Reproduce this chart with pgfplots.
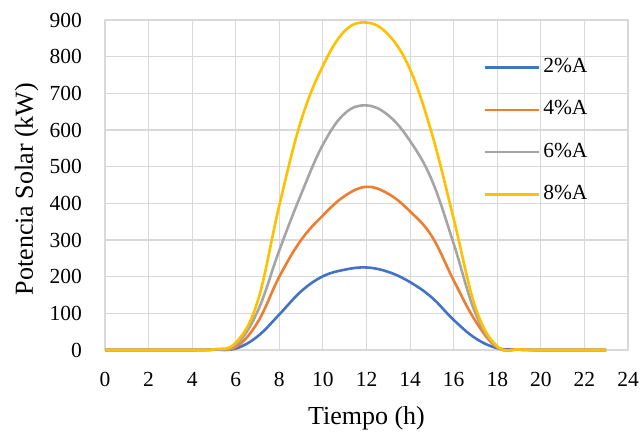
\documentclass[border=0pt]{standalone}
\usepackage{fontspec}
\setmainfont{Liberation Serif}
\usepackage{pgfplots}
\pgfplotsset{compat=1.18}
\definecolor{cA}{HTML}{4472C4}
\definecolor{cB}{HTML}{ED7D31}
\definecolor{cC}{HTML}{A5A5A5}
\definecolor{cD}{HTML}{FFC000}
\definecolor{gridc}{HTML}{D9D9D9}
\begin{document}
\begin{tikzpicture}
\begin{axis}[
  scale only axis, width=523pt, height=330pt,
  xmin=0, xmax=24, ymin=0, ymax=900,
  xtick={0,2,...,24}, ytick={0,100,...,900},
  grid=major, major grid style={draw=gridc, line width=1.1pt},
  axis line style={draw=gridc, line width=1.1pt},
  major tick length=0pt,
  clip=false,
  /pgf/number format/assume math mode=true,
  tick label style={font=\fontsize{21.5}{24}\selectfont, inner sep=0pt},
  xticklabel style={anchor=north, yshift=-22pt},
  yticklabel style={anchor=east, xshift=-23pt},
  xlabel={Tiempo (h)}, ylabel={Potencia Solar (kW)},
  label style={font=\fontsize{26}{30}\selectfont, inner sep=0pt},
  xlabel style={at={(axis description cs:0.5,-0.227)}, anchor=base},
  ylabel style={at={(axis description cs:-0.1377,0.488)}, anchor=base, rotate=0},
  legend style={at={(axis description cs:0.7228,0.8866)}, anchor=north west,
    draw=none, fill=none, inner sep=0pt,
    font=\fontsize{21.5}{24}\selectfont, row sep=22.2pt,
    nodes={inner sep=0pt, text height=15pt, text depth=5pt}},
  legend cell align=left,
  legend image code/.code={\draw[#1] (0pt,0pt) -- (54pt,0pt); \path (57.5pt,0pt);},
]
\addplot[cA, line width=2.6pt, smooth, tension=0.65] coordinates {(0,0)(1,0)(2,0)(3,0)(4,0)(5,1)(6,4)(7,37)(8,97)(9,160)(10,201)(11,219)(12,225)(13,213)(14,185)(15,143)(16,82)(17,32)(18,5)(19,1)(20,0)(21,0)(22,0)(23,0)};
\addlegendentry{2\%A}
\addplot[cB, line width=2.6pt, smooth, tension=0.65] coordinates {(0,0)(1,0)(2,0)(3,0)(4,0)(5,1)(6,8)(7,75)(8,200)(9,300)(10,367)(11,420)(12,445)(13,426)(14,378)(15,310)(16,190)(17,79)(18,7)(19,1)(20,0)(21,0)(22,0)(23,0)};
\addlegendentry{4\%A}
\addplot[cC, line width=2.6pt, smooth, tension=0.65] coordinates {(0,0)(1,0)(2,0)(3,0)(4,0)(5,1)(6,14)(7,105)(8,272)(9,425)(10,560)(11,645)(12,667)(13,640)(14,570)(15,463)(16,290)(17,100)(18,8)(19,1)(20,0)(21,0)(22,0)(23,0)};
\addlegendentry{6\%A}
\addplot[cD, line width=2.6pt, smooth, tension=0.65] coordinates {(0,0)(1,0)(2,0)(3,0)(4,0)(5,2)(6,20)(7,132)(8,395)(9,626)(10,775)(11,870)(12,893)(13,860)(14,765)(15,590)(16,358)(17,116)(18,10)(19,1.5)(20,0)(21,0)(22,0)(23,0)};
\addlegendentry{8\%A}
\end{axis}
\pgfresetboundingbox
\path[use as bounding box] ([shift={(-105pt,-82pt)}]current axis.south west) rectangle ([shift={(15pt,20pt)}]current axis.north east);
\end{tikzpicture}
\end{document}
